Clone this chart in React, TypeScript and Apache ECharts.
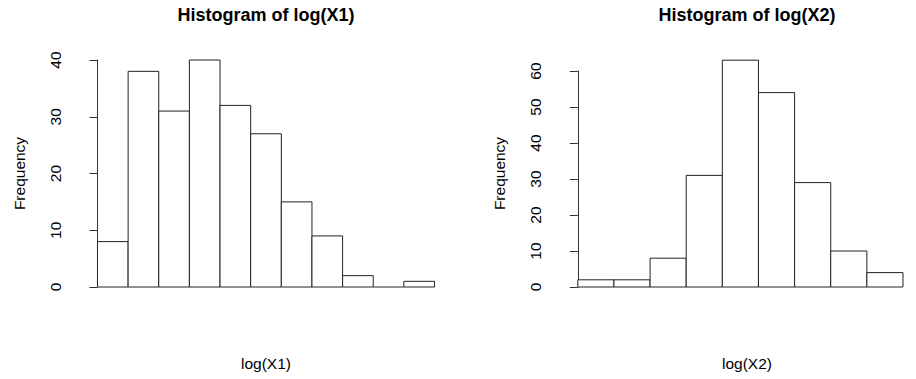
import React, { useEffect, useRef } from "react";
import * as echarts from "echarts";

// Histogram bin indices (edges) and counts
const binsX1: number[] = [0, 1, 2, 3, 4, 5, 6, 7, 8, 9, 10];
const countsX1: number[] = [8, 38, 31, 40, 32, 27, 15, 9, 2, 0, 1];
const binsX2: number[] = [0, 1, 2, 3, 4, 5, 6, 7, 8];
const countsX2: number[] = [2, 2, 8, 31, 63, 54, 29, 10, 4];

const titles: string[] = ["Histogram of log(X1)", "Histogram of log(X2)"];
const xLabels: string[] = ["log(X1)", "log(X2)"];
const yLabel = "Frequency";
const yMax: number[] = [40, 60];

const FONT = "'Liberation Sans', Arial, Helvetica, sans-serif";

function renderBar(params: any, api: any) {
  const x0 = api.value(0);
  const x1 = api.value(1);
  const y = api.value(2);
  const p0 = api.coord([x0, 0]);
  const p1 = api.coord([x1, y]);
  const style = { fill: "#fff", stroke: "#222", lineWidth: 1 };
  if (y === 0) {
    return {
      type: "line",
      shape: { x1: p0[0], y1: p0[1], x2: p1[0], y2: p0[1] },
      style: { stroke: "#222", lineWidth: 1 },
    };
  }
  return {
    type: "rect",
    shape: { x: p0[0], y: p1[1], width: p1[0] - p0[0], height: p0[1] - p1[1] },
    style,
  };
}

export default function App() {
  const ref = useRef<HTMLDivElement>(null);
  useEffect(() => {
    if (!ref.current) return;
    const chart = echarts.init(ref.current, null, { renderer: "svg" });
    const n1 = binsX1.length;
    const n2 = binsX2.length;
    const d1 = binsX1.map((b, i) => [b, b + 1, countsX1[i]]);
    const d2 = binsX2.map((b, i) => [b, b + 1, countsX2[i]]);
    const yAxisCommon = (max: number, gi: number) => ({
      type: "value",
      gridIndex: gi,
      min: 0,
      max,
      interval: 10,
      splitLine: { show: false },
      axisLine: { show: true, lineStyle: { color: "#333", width: 1 } },
      axisTick: { show: true, length: 8, lineStyle: { color: "#333", width: 1 } },
      axisLabel: {
        rotate: 90,
        margin: 21,
        color: "#000",
        fontSize: 15.5,
        fontFamily: FONT,
      },
    });
    chart.setOption({
      animation: false,
      grid: [
        { left: 84, top: 60, width: 364, height: 227 },
        { left: 564.8, top: 71, width: 364, height: 216 },
      ],
      xAxis: [
        { type: "value", gridIndex: 0, min: -0.04 * n1, max: n1 * 1.04, show: false },
        { type: "value", gridIndex: 1, min: -0.04 * n2, max: n2 * 1.04, show: false },
      ],
      yAxis: [yAxisCommon(yMax[0], 0), yAxisCommon(yMax[1], 1)],
      series: [
        {
          type: "custom",
          xAxisIndex: 0,
          yAxisIndex: 0,
          renderItem: renderBar,
          data: d1,
          clip: false,
        },
        {
          type: "custom",
          xAxisIndex: 1,
          yAxisIndex: 1,
          renderItem: renderBar,
          data: d2,
          clip: false,
        },
      ],
      graphic: [
        {
          type: "text",
          x: 266,
          y: 15,
          style: { text: titles[0], fill: "#000", font: `bold 18px ${FONT}`, align: "center", verticalAlign: "middle" },
        },
        {
          type: "text",
          x: 747,
          y: 15,
          style: { text: titles[1], fill: "#000", font: `bold 18px ${FONT}`, align: "center", verticalAlign: "middle" },
        },
        {
          type: "text",
          x: 266,
          y: 363,
          style: { text: xLabels[0], fill: "#000", font: `15.5px ${FONT}`, align: "center", verticalAlign: "middle" },
        },
        {
          type: "text",
          x: 747,
          y: 363,
          style: { text: xLabels[1], fill: "#000", font: `15.5px ${FONT}`, align: "center", verticalAlign: "middle" },
        },
        {
          type: "text",
          x: 19,
          y: 173.5,
          rotation: Math.PI / 2,
          style: { text: yLabel, fill: "#000", font: `15.5px ${FONT}`, align: "center", verticalAlign: "middle" },
        },
        {
          type: "text",
          x: 499,
          y: 173.5,
          rotation: Math.PI / 2,
          style: { text: yLabel, fill: "#000", font: `15.5px ${FONT}`, align: "center", verticalAlign: "middle" },
        },
      ],
    });
    return () => chart.dispose();
  }, []);
  return (
    <div
      ref={ref}
      style={{ position: "fixed", left: 0, top: 0, width: 916, height: 379, background: "#fff" }}
    />
  );
}
